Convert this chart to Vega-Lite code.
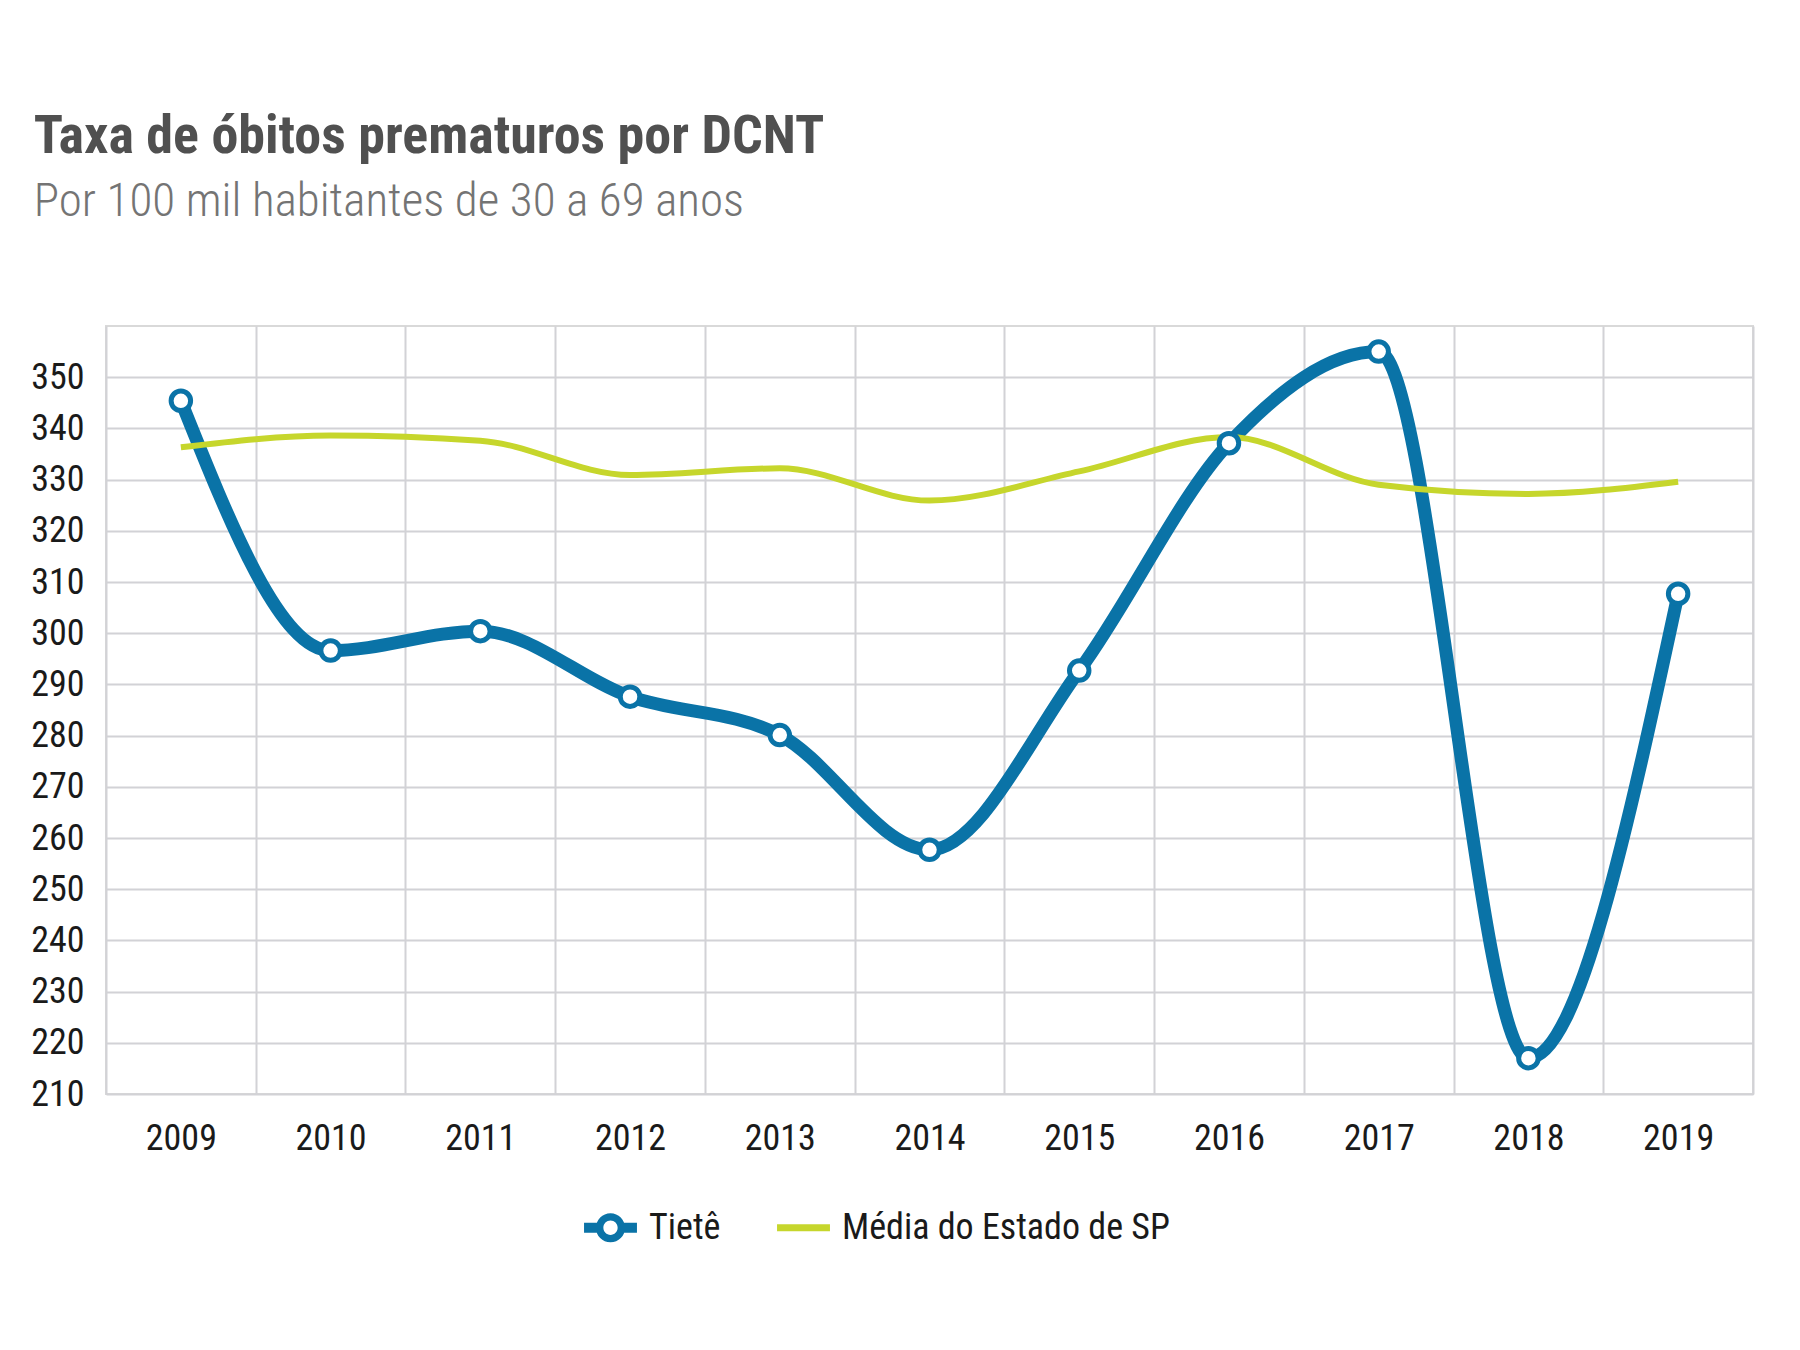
{
  "$schema": "https://vega.github.io/schema/vega-lite/v6.json",
  "background": "white",
  "padding": {"left": 30, "top": 109, "right": 38, "bottom": 20},
  "width": 1647,
  "height": 768,
  "title": {
    "text": "Taxa de óbitos prematuros por DCNT",
    "subtitle": "Por 100 mil habitantes de 30 a 69 anos",
    "anchor": "start",
    "frame": "bounds",
    "dx": 3,
    "font": "Roboto Condensed, Liberation Sans Narrow, DejaVu Sans Condensed, sans-serif",
    "fontSize": 54,
    "fontWeight": "bold",
    "color": "#505050",
    "subtitleFont": "Roboto Condensed, Liberation Sans Narrow, DejaVu Sans Condensed, sans-serif",
    "subtitleFontSize": 47,
    "subtitleFontWeight": 300,
    "subtitleColor": "#747474",
    "subtitlePadding": 15,
    "offset": 101
  },
  "data": {
    "values": [
      {"ano": "2009", "serie": "Tietê", "valor": 345.4},
      {"ano": "2010", "serie": "Tietê", "valor": 296.6},
      {"ano": "2011", "serie": "Tietê", "valor": 300.4},
      {"ano": "2012", "serie": "Tietê", "valor": 287.6},
      {"ano": "2013", "serie": "Tietê", "valor": 280.1},
      {"ano": "2014", "serie": "Tietê", "valor": 257.7},
      {"ano": "2015", "serie": "Tietê", "valor": 292.7},
      {"ano": "2016", "serie": "Tietê", "valor": 337.1},
      {"ano": "2017", "serie": "Tietê", "valor": 355.0},
      {"ano": "2018", "serie": "Tietê", "valor": 217.0},
      {"ano": "2019", "serie": "Tietê", "valor": 307.7},
      {"ano": "2009", "serie": "Média do Estado de SP", "valor": 336.3},
      {"ano": "2010", "serie": "Média do Estado de SP", "valor": 338.6},
      {"ano": "2011", "serie": "Média do Estado de SP", "valor": 337.6},
      {"ano": "2012", "serie": "Média do Estado de SP", "valor": 330.9},
      {"ano": "2013", "serie": "Média do Estado de SP", "valor": 332.2},
      {"ano": "2014", "serie": "Média do Estado de SP", "valor": 325.9},
      {"ano": "2015", "serie": "Média do Estado de SP", "valor": 331.6},
      {"ano": "2016", "serie": "Média do Estado de SP", "valor": 338.3},
      {"ano": "2017", "serie": "Média do Estado de SP", "valor": 329.0},
      {"ano": "2018", "serie": "Média do Estado de SP", "valor": 327.2},
      {"ano": "2019", "serie": "Média do Estado de SP", "valor": 329.6}
    ]
  },
  "encoding": {
    "x": {
      "field": "ano",
      "type": "ordinal",
      "scale": {"type": "band", "paddingInner": 0, "paddingOuter": 0},
      "axis": {
        "title": null,
        "labelAngle": 0,
        "tickBand": "extent",
        "grid": true,
        "ticks": false,
        "domain": false,
        "labelPadding": 27
      }
    },
    "y": {
      "field": "valor",
      "type": "quantitative",
      "scale": {"domain": [210, 360], "nice": false, "zero": false},
      "axis": {
        "title": null,
        "values": [210, 220, 230, 240, 250, 260, 270, 280, 290, 300, 310, 320, 330, 340, 350],
        "ticks": false,
        "domain": false,
        "labelPadding": 22
      }
    },
    "color": {
      "field": "serie",
      "type": "nominal",
      "scale": {
        "domain": ["Tietê", "Média do Estado de SP"],
        "range": ["#0a73a7", "#c6d62c"]
      },
      "legend": {
        "title": null,
        "orient": "none",
        "direction": "horizontal",
        "legendX": 478,
        "legendY": 875,
        "symbolSize": 2800,
        "labelOffset": 12,
        "columnPadding": 56,
        "labelFontSize": 36,
        "labelLimit": 0,
        "labelColor": "#1a1a1a",
        "labelFont": "Roboto Condensed, Liberation Sans Narrow, DejaVu Sans Condensed, sans-serif",
        "encode": {
          "symbols": {
            "update": {
              "shape": {"signal": "datum.value === 'Tietê' ? 'M-1,-0.19L-0.45,-0.19L-0.45,0.19L-1,0.19ZM0.45,-0.19L1,-0.19L1,0.19L0.45,0.19ZM0.55,0A0.55,0.55 0 1,1 -0.55,0A0.55,0.55 0 1,1 0.55,0ZM0.27,0A0.27,0.27 0 1,0 -0.27,0A0.27,0.27 0 1,0 0.27,0Z' : 'M-1,-0.13L1,-0.13L1,0.13L-1,0.13Z'"},
              "fill": {"signal": "datum.value === 'Tietê' ? '#0a73a7' : '#c6d62c'"},
              "fillOpacity": {"value": 1},
              "strokeWidth": {"value": 0}
            }
          }
        }
      }
    }
  },
  "layer": [
    {
      "transform": [{"filter": "datum.serie === 'Tietê'"}],
      "mark": {"type": "line", "interpolate": "monotone", "strokeWidth": 13}
    },
    {
      "transform": [{"filter": "datum.serie !== 'Tietê'"}],
      "mark": {"type": "line", "interpolate": "monotone", "strokeWidth": 6}
    },
    {
      "transform": [{"filter": "datum.serie === 'Tietê'"}],
      "mark": {"type": "point", "shape": "circle", "filled": false, "fill": "white", "fillOpacity": 1, "size": 380, "strokeWidth": 5, "opacity": 1}
    }
  ],
  "config": {
    "view": {"stroke": "#d9d9d9", "strokeWidth": 2},
    "axis": {
      "gridColor": "#d2d2d6",
      "gridWidth": 2,
      "gridOpacity": 1,
      "labelFont": "Roboto Condensed, Liberation Sans Narrow, DejaVu Sans Condensed, sans-serif",
      "labelFontSize": 36,
      "labelColor": "#1a1a1a"
    }
  }
}
